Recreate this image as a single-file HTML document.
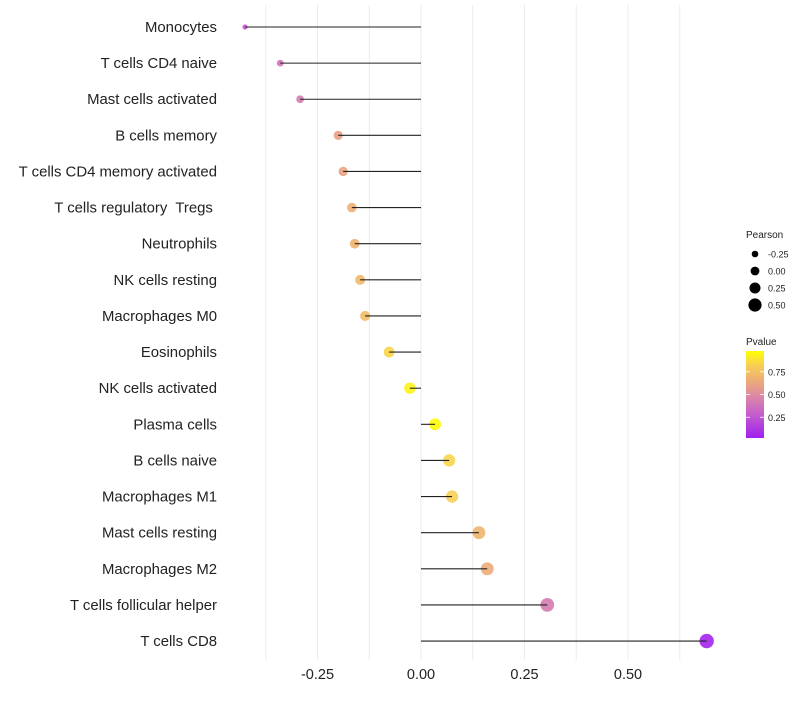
<!DOCTYPE html>
<html><head><meta charset="utf-8">
<style>
body{margin:0;background:#fff;font-family:"Liberation Sans",sans-serif;}
svg text{font-family:"Liberation Sans",sans-serif;white-space:pre;}
</style></head>
<body>
<svg id="chart" width="800" height="700"></svg>
<script>
const categories=["Monocytes","T cells CD4 naive","Mast cells activated","B cells memory","T cells CD4 memory activated","T cells regulatory  Tregs ","Neutrophils","NK cells resting","Macrophages M0","Eosinophils","NK cells activated","Plasma cells","B cells naive","Macrophages M1","Mast cells resting","Macrophages M2","T cells follicular helper","T cells CD8"];
const pearson=[-0.425,-0.34,-0.292,-0.20,-0.188,-0.167,-0.16,-0.147,-0.135,-0.077,-0.027,0.034,0.068,0.075,0.14,0.16,0.305,0.69];
const pvalues=[0.25,0.38,0.42,0.6,0.62,0.68,0.7,0.72,0.74,0.86,0.96,0.98,0.86,0.83,0.7,0.66,0.42,0.02];
const xTicks=[-0.25,0,0.25,0.5];
const xTickLabels=["-0.25","0.00","0.25","0.50"];
const sizeLegend=[-0.25,0,0.25,0.5];
const sizeLegendLabels=["-0.25","0.00","0.25","0.50"];
const colorTicks=[0.25,0.5,0.75];

const NS="http://www.w3.org/2000/svg";
const svg=document.getElementById('chart');
function el(t,a,p){const e=document.createElementNS(NS,t);for(const k in a)e.setAttribute(k,a[k]);(p||svg).appendChild(e);return e;}
const x=v=>421+v*414;
const y=i=>27+i*36.12;
const rScale=v=>{const f=Math.max(0,(0.69-v)/1.115);return 7.2-4.6*Math.pow(f,2.5);};
const stops=[[0,[160,32,240]],[0.3,[200,100,200]],[0.5,[222,140,160]],[0.7,[240,180,110]],[0.85,[248,210,80]],[1,[255,255,0]]];
function col(p){for(let i=1;i<stops.length;i++){if(p<=stops[i][0]){const a=stops[i-1],b=stops[i];const t=(p-a[0])/(b[0]-a[0]);const c=a[1].map((v,k)=>Math.round(v+(b[1][k]-v)*t));return `rgb(${c})`;}}return 'rgb(255,255,0)';}

for(let g=-0.375;g<=0.63;g+=0.125){
  const l=el('line',{x1:x(g),x2:x(g),y1:5,y2:660,stroke:'#ebebeb','stroke-width':1});
  
  
}
xTicks.forEach((v,i)=>{
  const t=el('text',{x:x(v),y:679,'text-anchor':'middle','font-size':14.5,fill:'#222'});
  t.textContent=xTickLabels[i];
  
  
});
categories.forEach((c,i)=>{
  const t=el('text',{x:217,y:y(i)+5,'text-anchor':'end','font-size':14.9,fill:'#222'});
  t.textContent=c;
  
  
});
categories.forEach((c,i)=>{
  const d=el('circle',{cx:x(pearson[i]),cy:y(i),r:rScale(pearson[i]),fill:col(pvalues[i]),'fill-opacity':0.9});
  
  
});
categories.forEach((c,i)=>{
  const l=el('line',{x1:x(0),x2:x(pearson[i]),y1:y(i),y2:y(i),stroke:'#222','stroke-width':1.1});
  
  
});
let t=el('text',{x:746,y:238,'font-size':10,fill:'#222'});t.textContent='Pearson';


sizeLegend.forEach((v,i)=>{
  const cy=254+i*17;
  const c=el('circle',{cx:755,cy:cy,r:3.3+i*1.1,fill:'#000'});
  
  
  const s=el('text',{x:768,y:cy+3.5,'font-size':9,fill:'#222'});s.textContent=sizeLegendLabels[i];
  
  
});
t=el('text',{x:746,y:345,'font-size':10,fill:'#222'});t.textContent='Pvalue';


const defs=el('defs',{});
const lg=el('linearGradient',{id:'gr',x1:0,y1:1,x2:0,y2:0},defs);
stops.forEach(s=>el('stop',{offset:s[0],'stop-color':`rgb(${s[1]})`},lg));
const cb=el('rect',{x:746,y:351,width:18,height:87,fill:'url(#gr)'});


const cy0=440,cy1=349;
colorTicks.forEach(v=>{
  const yy=cy0-(cy0-cy1)*v;
  el('line',{x1:746,x2:750,y1:yy,y2:yy,stroke:'#fff','stroke-width':0.8});
  el('line',{x1:760,x2:764,y1:yy,y2:yy,stroke:'#fff','stroke-width':0.8});
  const s=el('text',{x:768,y:yy+3.5,'font-size':9,fill:'#222'});s.textContent=v.toFixed(2);
  
  
});
</script>
</body></html>
